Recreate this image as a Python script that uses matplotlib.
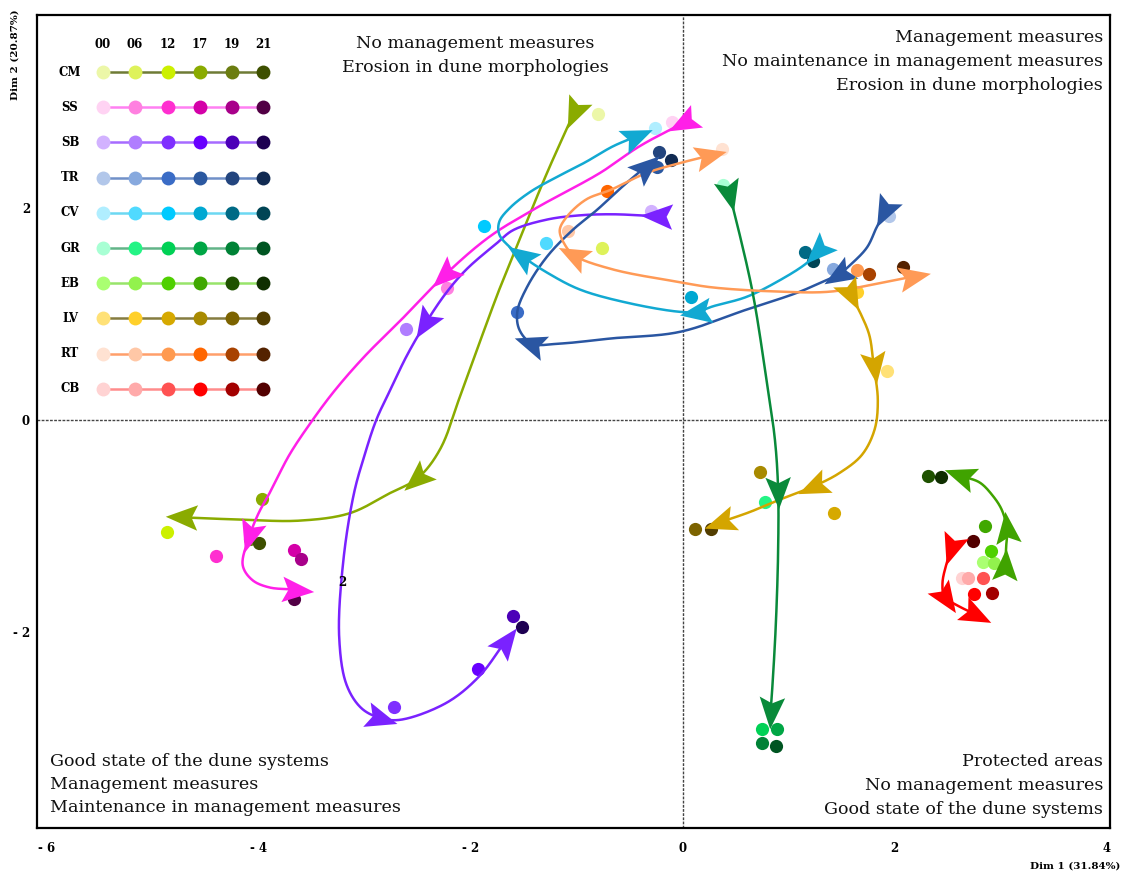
import numpy as np
import matplotlib
matplotlib.use('Agg')
import matplotlib.pyplot as plt
from matplotlib.path import Path
from matplotlib.markers import MarkerStyle
from matplotlib.transforms import Affine2D

# ---------------- data ----------------
years = ['00', '06', '12', '17', '19', '21']
sites = ['CM', 'SS', 'SB', 'TR', 'CV', 'GR', 'EB', 'LV', 'RT', 'CB']

# site positions per year (Dim1, Dim2)
cm_pts = [(-0.80, 2.89), (-0.76, 1.62), (-4.86, -1.06), (-3.97, -0.75), (-4.08, -1.12), (-4.00, -1.16)]
ss_pts = [(-0.10, 2.81), (-2.22, 1.24), (-4.40, -1.28), (-3.67, -1.23), (-3.60, -1.31), (-3.67, -1.69)]
sb_pts = [(-0.30, 1.97), (-2.61, 0.86), (-2.72, -2.71), (-1.93, -2.35), (-1.60, -1.85), (-1.52, -1.95)]
tr_pts = [(1.95, 1.92), (1.42, 1.42), (-1.56, 1.02), (-0.24, 2.39), (-0.22, 2.53), (-0.11, 2.45)]
cv_pts = [(-0.26, 2.75), (-1.29, 1.67), (-1.87, 1.83), (0.08, 1.16), (1.15, 1.58), (1.23, 1.50)]
gr_pts = [(0.38, 2.22), (0.78, -0.77), (0.75, -2.92), (0.89, -2.92), (0.75, -3.05), (0.88, -3.08)]
eb_pts = [(2.83, -1.34), (2.94, -1.35), (2.91, -1.24), (2.85, -1.00), (2.31, -0.53), (2.44, -0.54)]
lv_pts = [(1.93, 0.46), (1.64, 1.21), (1.43, -0.88), (0.73, -0.49), (0.12, -1.03), (0.27, -1.03)]
rt_pts = [(0.37, 2.56), (-1.08, 1.78), (1.64, 1.41), (-0.71, 2.16), (1.76, 1.38), (2.08, 1.44)]
cb_pts = [(2.63, -1.49), (2.69, -1.49), (2.83, -1.49), (2.75, -1.64), (2.92, -1.63), (2.74, -1.14)]

# point colours per year
cm_colors = ['#ecf7a8', '#def25a', '#ccf000', '#8aab00', '#6b7d10', '#3e5000']
ss_colors = ['#ffd3f3', '#ff80e0', '#ff2fd0', '#d400a8', '#a8008a', '#520045']
sb_colors = ['#d2b2ff', '#b07dff', '#7f2fff', '#6800ff', '#4c00b8', '#1e0052']
tr_colors = ['#b2c7ea', '#87a9de', '#3a6cc6', '#2b58a0', '#23457e', '#112a52']
cv_colors = ['#b0eeff', '#50daff', '#00caff', '#00a8d2', '#006a85', '#004555']
gr_colors = ['#a8ffd4', '#24f485', '#00d155', '#00a645', '#008236', '#005522']
eb_colors = ['#aaff72', '#92f24d', '#4fd000', '#40a800', '#1f5200', '#0f2f00']
lv_colors = ['#ffe177', '#ffd02a', '#d6a900', '#a88a00', '#7c6300', '#523d00']
rt_colors = ['#ffe2d2', '#ffc7a6', '#ff9a50', '#ff6600', '#a84200', '#542200']
cb_colors = ['#ffd3d3', '#ffaaaa', '#ff5252', '#ff0000', '#a30000', '#520000']

# trajectory colours and legend line colours
track_colors = ['#8aab00', '#ff1fe8', '#7a22ff', '#2a56a2', '#12a9d2',
                '#098a3a', '#40a300', '#d4a500', '#ff9a56', '#ff0000']
legend_line_colors = ['#6e7b35', '#ff80f2', '#a66bff', '#7090c8', '#6cd8f2',
                      '#62b488', '#98e46a', '#857c40', '#ff9f6a', '#ff8c8c']

# trajectory waypoints (Dim1, Dim2)
cm_path = [(-1.02, 2.91), (-1.28, 2.33), (-1.54, 1.70), (-1.73, 1.23), (-2.08, 0.28), (-2.29, -0.28),
           (-2.50, -0.55), (-2.76, -0.69), (-3.14, -0.88), (-3.61, -0.95), (-4.18, -0.94), (-4.70, -0.92)]
ss_path = [(0.02, 2.81), (-0.41, 2.58), (-0.78, 2.33), (-1.38, 2.00), (-1.82, 1.73), (-2.23, 1.38),
           (-2.62, 0.98), (-3.00, 0.60), (-3.28, 0.28), (-3.49, 0.00), (-3.71, -0.33), (-3.88, -0.66),
           (-4.00, -0.88), (-4.08, -1.08), (-4.15, -1.37), (-4.06, -1.51), (-3.90, -1.58), (-3.66, -1.60)]
sb_path = [(-0.22, 1.92), (-0.66, 1.94), (-0.97, 1.93), (-1.28, 1.89), (-1.60, 1.79), (-1.75, 1.67),
           (-2.04, 1.42), (-2.23, 1.20), (-2.42, 0.92), (-2.60, 0.61), (-2.75, 0.30), (-2.89, 0.00),
           (-3.00, -0.33), (-3.10, -0.69), (-3.20, -1.32), (-3.24, -2.05), (-3.17, -2.50), (-3.03, -2.72),
           (-2.86, -2.81), (-2.67, -2.83), (-2.23, -2.67), (-1.92, -2.42), (-1.68, -2.10)]
tr_path = [(1.91, 1.98), (1.83, 1.82), (1.74, 1.63), (1.60, 1.48), (1.48, 1.38), (1.29, 1.29),
           (1.08, 1.20), (0.60, 1.04), (-0.03, 0.83), (-0.66, 0.77), (-1.16, 0.72), (-1.42, 0.72),
           (-1.54, 0.85), (-1.56, 1.02), (-1.47, 1.25), (-1.28, 1.54), (-1.04, 1.79), (-0.81, 1.98),
           (-0.57, 2.20), (-0.36, 2.38)]
cv_path = [(1.29, 1.60), (1.17, 1.48), (0.92, 1.32), (0.60, 1.16), (0.28, 1.07), (0.14, 1.02),
           (-0.03, 1.02), (-0.50, 1.10), (-0.97, 1.23), (-1.28, 1.39), (-1.51, 1.54), (-1.63, 1.63),
           (-1.73, 1.75), (-1.73, 1.87), (-1.63, 2.00), (-1.44, 2.15), (-1.21, 2.28), (-0.92, 2.43),
           (-0.66, 2.58), (-0.45, 2.67)]
gr_path = [(0.44, 2.14), (0.52, 1.82), (0.66, 1.20), (0.79, 0.38), (0.87, -0.19), (0.90, -0.66),
           (0.90, -1.23), (0.88, -1.89), (0.85, -2.45), (0.83, -2.74)]
eb_path = [(3.04, -1.39), (3.05, -1.20), (3.06, -1.04), (3.01, -0.85), (2.92, -0.71), (2.80, -0.59),
           (2.63, -0.53)]
lv_path = [(1.58, 1.20), (1.67, 1.02), (1.76, 0.80), (1.80, 0.52), (1.84, 0.19), (1.81, -0.09),
           (1.69, -0.33), (1.48, -0.50), (1.25, -0.62), (0.92, -0.75), (0.63, -0.87), (0.37, -0.96)]
rt_path = [(2.16, 1.35), (1.86, 1.29), (1.39, 1.21), (0.92, 1.21), (0.28, 1.25), (-0.03, 1.30),
           (-0.66, 1.42), (-1.02, 1.55), (-1.11, 1.65), (-1.16, 1.79), (-1.09, 1.92), (-0.91, 2.08),
           (-0.68, 2.17), (-0.34, 2.33), (0.00, 2.43), (0.24, 2.49)]
cb_path = [(2.54, -1.20), (2.49, -1.35), (2.45, -1.54), (2.47, -1.67), (2.59, -1.75), (2.75, -1.83)]

# arrowheads: (waypoint index, direction +1 forward / -1 backward)
cm_arrows = [(0, 1), (6, 1), (11, 1)]
ss_arrows = [(0, 1), (5, 1), (13, 1), (17, 1)]
sb_arrows = [(0, 1), (8, 1), (18, 1), (22, 1)]
tr_arrows = [(0, 1), (4, 1), (11, 1), (19, 1)]
cv_arrows = [(0, 1), (5, 1), (10, 1), (19, 1)]
gr_arrows = [(0, 1), (5, 1), (9, 1)]
eb_arrows = [(0, 1), (2, 1), (6, 1)]
lv_arrows = [(0, 1), (3, 1), (8, 1), (11, 1)]
rt_arrows = [(0, -1), (7, 1), (15, 1)]
cb_arrows = [(0, 1), (3, 1), (5, 1)]

all_pts = [cm_pts, ss_pts, sb_pts, tr_pts, cv_pts, gr_pts, eb_pts, lv_pts, rt_pts, cb_pts]
all_colors = [cm_colors, ss_colors, sb_colors, tr_colors, cv_colors, gr_colors, eb_colors,
              lv_colors, rt_colors, cb_colors]
all_paths = [cm_path, ss_path, sb_path, tr_path, cv_path, gr_path, eb_path, lv_path, rt_path, cb_path]
all_arrows = [cm_arrows, ss_arrows, sb_arrows, tr_arrows, cv_arrows, gr_arrows, eb_arrows,
              lv_arrows, rt_arrows, cb_arrows]

x_ticks = [-6, -4, -2, 0, 2, 4]
x_tick_labels = ['- 6', '- 4', '- 2', '0', '2', '4']
y_ticks = [-2, 0, 2]
y_tick_labels = ['- 2', '0', '2']

top_center_text = ['No management measures', 'Erosion in dune morphologies']
top_right_text = ['Management measures', 'No maintenance in management measures',
                  'Erosion in dune morphologies']
bottom_left_text = ['Good state of the dune systems', 'Management measures',
                    'Maintenance in management measures']
bottom_right_text = ['Protected areas', 'No management measures', 'Good state of the dune systems']

# ---------------- figure ----------------
W, H = 1123, 876
fig = plt.figure(figsize=(W / 100, H / 100), dpi=100)
ax_l, ax_r, ax_t, ax_b = 37, 1110, 15, 828
ax = fig.add_axes([ax_l / W, 1 - ax_b / H, (ax_r - ax_l) / W, (ax_b - ax_t) / H])
ax.set_xlim(-6.09, 4.03)
ax.set_ylim(-3.85, 3.82)

for s in ax.spines.values():
    s.set_linewidth(1.6)
    s.set_color('black')

ax.axvline(0, color='#444444', lw=1.0, ls=(0, (2, 1)), zorder=1)
ax.axhline(0, color='#444444', lw=1.0, ls=(0, (2, 1)), zorder=1)

tick_font = dict(family='DejaVu Serif', weight='bold', size=8.5)
ax.set_xticks(x_ticks)
ax.set_xticklabels(x_tick_labels, **tick_font)
ax.set_yticks(y_ticks)
ax.set_yticklabels(y_tick_labels, **tick_font)
ax.tick_params(length=0, pad=10)
ax.tick_params(axis='y', pad=5)


def centripetal_spline(pts, n=30, alpha=0.5):
    P = np.asarray(pts, dtype=float)
    P = np.vstack([2 * P[0] - P[1], P, 2 * P[-1] - P[-2]])
    out = []
    for i in range(1, len(P) - 2):
        p0, p1, p2, p3 = P[i - 1], P[i], P[i + 1], P[i + 2]
        t0 = 0.0
        t1 = t0 + max(np.linalg.norm(p1 - p0), 1e-6) ** alpha
        t2 = t1 + max(np.linalg.norm(p2 - p1), 1e-6) ** alpha
        t3 = t2 + max(np.linalg.norm(p3 - p2), 1e-6) ** alpha
        t = np.linspace(t1, t2, n, endpoint=False)[:, None]
        a1 = (t1 - t) / (t1 - t0) * p0 + (t - t0) / (t1 - t0) * p1
        a2 = (t2 - t) / (t2 - t1) * p1 + (t - t1) / (t2 - t1) * p2
        a3 = (t3 - t) / (t3 - t2) * p2 + (t - t2) / (t3 - t2) * p3
        b1 = (t2 - t) / (t2 - t0) * a1 + (t - t0) / (t2 - t0) * a2
        b2 = (t3 - t) / (t3 - t1) * a2 + (t - t1) / (t3 - t1) * a3
        c = (t2 - t) / (t2 - t1) * b1 + (t - t1) / (t2 - t1) * b2
        out.append(c)
    out.append(P[-2][None])
    return np.vstack(out)


arrow_path = Path([(1.0, 0.0), (-0.7, 0.68), (-0.38, 0.0), (-0.7, -0.68), (1.0, 0.0)],
                  [Path.MOVETO, Path.LINETO, Path.LINETO, Path.LINETO, Path.CLOSEPOLY])

# points
for pts, cols in zip(all_pts, all_colors):
    for (px, py), c in zip(pts, cols):
        ax.plot(px, py, 'o', color=c, markersize=9.5, markeredgewidth=0, zorder=2)

# trajectories
for path, arrows, col in zip(all_paths, all_arrows, track_colors):
    curve = centripetal_spline(path)
    ax.plot(curve[:, 0], curve[:, 1], color=col, lw=1.8, zorder=3, solid_capstyle='round')
    disp = ax.transData.transform(np.asarray(path))
    for idx, sgn in arrows:
        a = disp[max(idx - 1, 0)]
        b = disp[min(idx + 1, len(path) - 1)]
        d = (b - a) * sgn
        ang = np.arctan2(d[1], d[0])
        m = MarkerStyle(arrow_path, transform=Affine2D().rotate(ang))
        ax.plot(path[idx][0], path[idx][1], marker=m, color=col, markersize=27,
                markeredgewidth=0, linestyle='none', zorder=4)

# stray label
ax.text(-3.21, -1.53, '2', ha='center', va='center', fontsize=8.5, fontweight='bold',
        family='DejaVu Serif', zorder=5)

# quadrant texts
qfont = dict(family='DejaVu Serif', size=12.6, color='#111111')
for i, s in enumerate(top_center_text):
    fig.text(475 / W, 1 - (43 + 24 * i) / H, s, ha='center', va='center', **qfont)
for i, s in enumerate(top_right_text):
    fig.text(1103 / W, 1 - (37 + 24 * i) / H, s, ha='right', va='center', **qfont)
for i, s in enumerate(bottom_left_text):
    fig.text(50 / W, 1 - (761 + 23.5 * i) / H, s, ha='left', va='center', **qfont)
for i, s in enumerate(bottom_right_text):
    fig.text(1103 / W, 1 - (762 + 23.5 * i) / H, s, ha='right', va='center', **qfont)

# axis titles
fig.text(1075 / W, 1 - 866 / H, 'Dim 1 (31.84%)', ha='center', va='center',
         family='DejaVu Serif', size=7.5, weight='bold')
fig.text(15 / W, 1 - 55 / H, 'Dim 2 (20.87%)', ha='center', va='center', rotation=90,
         family='DejaVu Serif', size=7.5, weight='bold')

# legend table
leg_x = [103, 135, 168, 200, 232, 263]
leg_y0, leg_dy = 72, 35.2
for j, yr in enumerate(years):
    fig.text(leg_x[j] / W, 1 - 45 / H, yr, ha='center', va='center',
             family='DejaVu Serif', size=8.5, weight='bold')
for i, (name, cols, lc) in enumerate(zip(sites, all_colors, legend_line_colors)):
    yy = 1 - (leg_y0 + leg_dy * i) / H
    fig.text(70 / W, yy, name, ha='center', va='center', family='DejaVu Serif',
             size=8.5, weight='bold')
    ax.plot([leg_x[0] / W, leg_x[-1] / W], [yy, yy], color=lc, lw=1.8,
            transform=fig.transFigure, clip_on=False, zorder=6)
    for j, c in enumerate(cols):
        ax.plot(leg_x[j] / W, yy, 'o', color=c, markersize=10, markeredgewidth=0,
                transform=fig.transFigure, clip_on=False, zorder=7)

fig.savefig('out.png', dpi=100)
